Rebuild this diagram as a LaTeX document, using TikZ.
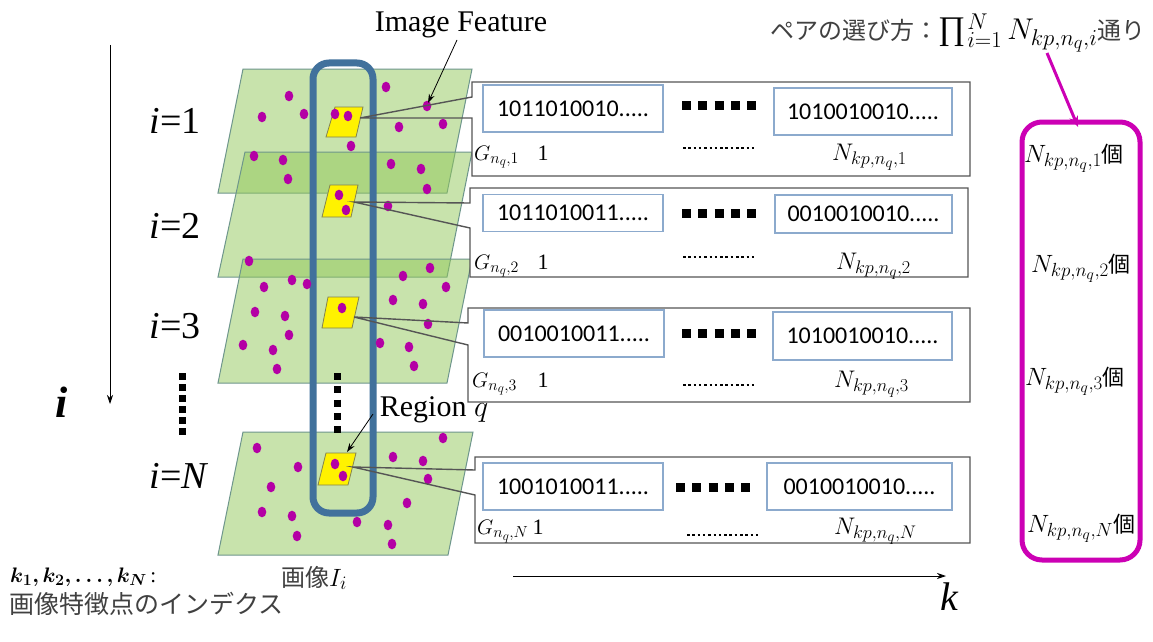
\RequirePackage{fix-cm}
\documentclass[tikz,border=0pt]{standalone}
\usepackage{bm}
\usepackage{fontspec}
\setmainfont{Liberation Serif}
\newfontfamily\binfont{Carlito}
\newfontfamily\jpfont{Noto Sans CJK JP}
\def\defaultscriptratio{.76}
\def\defaultscriptscriptratio{.62}
\usetikzlibrary{arrows.meta}
\definecolor{planefill}{RGB}{146,200,90}
\definecolor{planeedge}{RGB}{110,150,140}
\definecolor{bluerect}{RGB}{65,113,156}
\definecolor{dotc}{RGB}{180,0,165}
\definecolor{magc}{RGB}{204,0,180}
\definecolor{innerc}{RGB}{140,170,205}
\definecolor{yeledge}{RGB}{130,130,80}
\definecolor{boxedge}{RGB}{85,85,85}
\definecolor{jpgray}{RGB}{64,64,64}
\tikzset{
  planeS/.style={fill=planefill, fill opacity=0.5, draw=planeedge, line width=1pt},
  yelS/.style={fill=yellow, draw=yeledge, line width=0.8pt},
  calloutS/.style={draw=boxedge, line width=1.4pt},
  innerbox/.style={draw=innerc, line width=1.2pt, fill=white, minimum width=180pt, minimum height=47pt, inner sep=0pt, font=\binfont\fontsize{24}{28}\selectfont},
  bigsq/.style={line width=9pt, dash pattern=on 9pt off 7.25pt},
  smalldots/.style={line width=2.5pt, dash pattern=on 2.5pt off 2.8pt},
  vdots/.style={line width=7pt, dash pattern=on 7pt off 4pt},
  ilab/.style={font=\fontsize{38}{40}\selectfont, anchor=base west},
  glab/.style={font=\fontsize{21}{23}\selectfont, anchor=base west, inner sep=0pt},
  onelab/.style={font=\fontsize{22}{24}\selectfont, anchor=base, inner sep=0pt},
  nlab/.style={font=\fontsize{24}{26}\selectfont, anchor=base west, inner sep=0pt},
  klab/.style={font=\fontsize{25}{27}\selectfont, anchor=base west, inner sep=0pt},
  thinarrow/.style={-{Stealth[length=9pt,width=6pt]}, line width=0.8pt, black},
  magarrow/.style={-{Stealth[length=11pt,width=9pt]}, line width=3pt, magc},
}
\newcommand\ko{{\jpfont\fontsize{22}{24}\selectfont 個}}
\begin{document}
\begin{tikzpicture}[x=1pt,y=-1pt]
\useasboundingbox (0,0) rectangle (1153,642);
\fill[white] (0,0) rectangle (1153,642);

% planes
\draw[planeS] (243,69) -- (472,69) -- (447,193) -- (218,193) -- cycle;
\draw[planeS] (245,152) -- (472,152) -- (447,277) -- (218,277) -- cycle;
\draw[planeS] (243,259) -- (472,259) -- (447,383) -- (218,383) -- cycle;
\draw[planeS] (243,432) -- (473,432) -- (448,555) -- (218,555) -- cycle;

% region box
\node[draw=bluerect, line width=7pt, rounded corners=16pt, minimum width=60pt, minimum height=450pt, inner sep=0pt] (regbox) at (343,288) {};

% yellow regions
\draw[yelS] (335,107) -- (363,107) -- (356,137) -- (326,137) -- cycle;
\draw[yelS] (330,185) -- (358,185) -- (351,217) -- (322,217) -- cycle;
\draw[yelS] (328,297) -- (359,297) -- (352,328) -- (322,328) -- cycle;
\draw[yelS] (326,453) -- (356,453) -- (348,485) -- (318,485) -- cycle;
\coordinate (Y1) at (360,118);
\coordinate (Y2) at (354,202);
\coordinate (Y3) at (354,317);
\coordinate (YN) at (353,467);

% dots
\foreach \x/\y in {386/87,289/96,262/117,304/114,335/114,348/116,427/106,399/127,443/124,351/146,254/156,283/160,288/179,391/164,421/169,427/189,
339/195,346/210,388/206,249/261,430/268,403/276,446/287,292/280,264/287,307/284,
393/300,423/304,255/312,285/316,342/308,428/324,289/335,243/345,273/350,380/343,409/347,414/366,277/369,
443/438,257/448,298/467,335/464,343/476,393/457,423/461,428/479,271/487,407/503,262/512,292/516,357/522,388/525,297/536,392/544}
  \fill[dotc] (\x,\y) ellipse (4.3 and 5.3);

% vertical dots in region box
\draw[line width=7pt, dash pattern=on 7pt off 6.3pt] (337,373) -- (337,433);

% callout boxes
\fill[white] (472,82) rectangle (970,176);
\draw[calloutS] (Y1) -- (472,97) -- (472,82) -- (970,82) -- (970,176) -- (472,176) -- (472,118) -- cycle;
\fill[white] (470,188) rectangle (968,277);
\draw[calloutS] (Y2) -- (470,203) -- (470,188) -- (968,188) -- (968,277) -- (470,277) -- (470,228) -- cycle;
\fill[white] (468,308) rectangle (970,402);
\draw[calloutS] (Y3) -- (468,323) -- (468,308) -- (970,308) -- (970,402) -- (468,402) -- (468,345) -- cycle;
\fill[white] (475,457) rectangle (970,543);
\draw[calloutS] (YN) -- (475,470) -- (475,457) -- (970,457) -- (970,543) -- (475,543) -- (475,495) -- cycle;

% inner boxes
\node[innerbox] (b1l) at (573,108.5) {1011010010.....};
\node[innerbox, minimum width=178pt] (b1r) at (863,111.5) {1010010010.....};
\node[innerbox, minimum height=37pt] (b2l) at (573,213) {1011010011.....};
\node[innerbox, minimum width=177pt, minimum height=38pt] (b2r) at (863.5,214) {0010010010.....};
\node[innerbox] (b3l) at (574,333.5) {0010010011.....};
\node[innerbox, minimum width=179pt, minimum height=48pt] (b3r) at (862.5,336) {1010010010.....};
\node[innerbox] (bNl) at (573,486.5) {1001010011.....};
\node[innerbox, minimum width=185pt] (bNr) at (859.5,486.5) {0010010010.....};

% big squares and small dots
\draw[bigsq] (682,105) -- (756,105);
\draw[bigsq] (682,213) -- (756,213);
\draw[bigsq] (682,333) -- (756,333);
\draw[bigsq] (676,487) -- (752,487);
\draw[smalldots] (683,148) -- (757,148);
\draw[smalldots] (683,257) -- (757,257);
\draw[smalldots] (683,385) -- (757,385);
\draw[smalldots] (687,535) -- (761,535);

% labels in boxes
\node[glab] (g1) at (474,160) {$G_{n_q,1}$};
\node[onelab] (o1) at (543,160) {1};
\node[nlab] (n1) at (832,160) {$N_{kp,n_q,1}$};
\node[glab] (g2) at (474,269) {$G_{n_q,2}$};
\node[onelab] (o2) at (543,269) {1};
\node[nlab] (n2) at (836,269) {$N_{kp,n_q,2}$};
\node[glab] (g3) at (472,387) {$G_{n_q,3}$};
\node[onelab] (o3) at (543,387) {1};
\node[nlab] (n3) at (834,387) {$N_{kp,n_q,3}$};
\node[glab] (gN) at (477,534) {$G_{n_q,N}$};
\node[onelab] (oN) at (538,534) {1};
\node[nlab] (nN) at (834,534) {$N_{kp,n_q,N}$};

% magenta box
\node[draw=magc, line width=5pt, rounded corners=20pt, minimum width=118pt, minimum height=438pt, inner sep=0pt] (magbox) at (1081,341) {};
\node[klab] (k1) at (1024,162) {$N_{kp,n_q,1}$\ko};
\node[klab] (k2) at (1031,272) {$N_{kp,n_q,2}$\ko};
\node[klab] (k3) at (1025,385) {$N_{kp,n_q,3}$\ko};
\node[klab] (kN) at (1027,532) {$N_{kp,n_q,N}$\ko};

% top right text and arrow
\node[anchor=base west, inner sep=0pt, font=\fontsize{30}{32}\selectfont] (ptext) at (770,40) {{\jpfont\fontsize{24}{26}\selectfont\color{jpgray}ペアの選び方：}{\fontsize{33}{34}\selectfont ∏}\kern2pt$_{i=1}^{N}\, N_{kp,n_q,i}${\jpfont\fontsize{24}{26}\selectfont\color{jpgray}通り}};
\coordinate (pa) at (1047,53);
\coordinate (pb) at (1078,127);
\draw[magarrow] (pa) -- (pb);

% Image Feature
\node[font=\fontsize{30}{32}\selectfont, inner sep=0pt] (imf) at (461,25) {Image Feature};
\coordinate (imt) at (428,103);
\draw[thinarrow] (457,40) -- (imt);

% Region q
\node[font=\fontsize{30}{32}\selectfont, inner sep=0pt] (regq) at (434,410) {Region $q$};
\coordinate (regt) at (347,452);
\draw[thinarrow] (373,414) -- (regt);

% i labels
\node[ilab] (i1) at (146,133) {\textit{i}=1};
\node[ilab] (i2) at (146,238) {\textit{i}=2};
\node[ilab] (i3) at (146,338) {\textit{i}=3};
\node[ilab] (iN) at (146,488) {\textit{i}=\textit{N}};
\draw[vdots] (182,373) -- (182,435);

% big i axis
\node[font=\fontsize{44}{46}\selectfont] (bigi) at (62,402) {\textbf{\textit{i}}};
\coordinate (ia) at (110,45);
\coordinate (ib) at (110,404);
\draw[thinarrow] (ia) -- (ib);

% k axis
\coordinate (ka) at (513,576);
\coordinate (kb) at (946,576);
\draw[thinarrow] (ka) -- (kb);
\node[font=\fontsize{40}{42}\selectfont] (kk) at (950,597) {\textit{k}};

% image label
\node[font=\fontsize{25}{27}\selectfont, anchor=base west, inner sep=0pt] (imgI) at (281,586) {{\jpfont\fontsize{24}{26}\selectfont\color{jpgray}画像}$I_i$};

% bottom-left legend
\node[font=\fontsize{21}{22}\selectfont, anchor=base west, inner sep=0pt] (kidx) at (10,582) {$\bm{k_1, k_2, \ldots, k_N}$\,:};
\node[font=\jpfont\fontsize{25}{27}\selectfont, text=jpgray, anchor=base west, inner sep=0pt] (kjp) at (9,613) {画像特徴点のインデクス};
\end{tikzpicture}
\end{document}
